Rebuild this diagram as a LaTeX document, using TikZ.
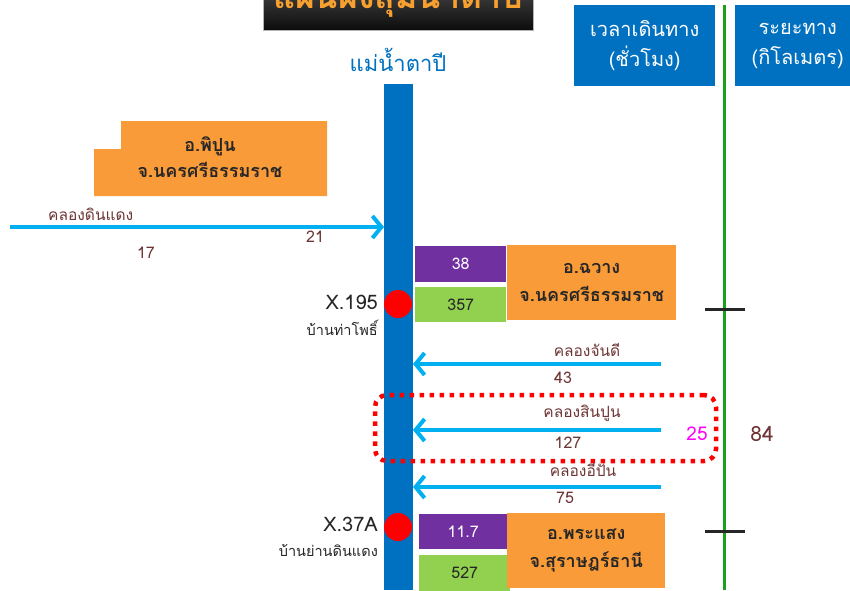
\documentclass[tikz,border=0pt]{standalone}
\usepackage{fontspec}
\setmainfont{Loma}[Script=Thai]
\usetikzlibrary{arrows.meta}
\definecolor{riverblue}{HTML}{0070C0}
\definecolor{tribblue}{HTML}{00B0F0}
\definecolor{orangebox}{HTML}{F99B38}
\definecolor{purplebox}{HTML}{7030A0}
\definecolor{greenbox}{HTML}{92D050}
\definecolor{scalegreen}{HTML}{1AA01A}
\definecolor{labelbrown}{HTML}{6E3535}
\definecolor{titleorange}{HTML}{F7A030}
\definecolor{hourpink}{HTML}{FF00FF}
\newcommand{\fsz}[2]{\fontsize{#1}{#2}\selectfont}
\tikzset{
  fillbox/.style={anchor=north west, inner sep=0pt, align=center, text=black!85},
  orangecell/.style={fillbox, fill=orangebox, font=\fsz{18}{22}\bfseries},
  purplecell/.style={fillbox, fill=purplebox, text=white, font=\fsz{16}{20}},
  greencell/.style={fillbox, fill=greenbox, font=\fsz{16}{20}},
  headcell/.style={anchor=north west, inner sep=0pt, fill=riverblue, text=white, align=center, font=\fsz{20}{30}},
  tributary/.style={draw=tribblue, line width=4pt, -{Straight Barb[length=9pt,width=22pt,line width=4pt]}},
  brown/.style={text=labelbrown, inner sep=0pt},
  canal/.style={brown, font=\fsz{15.5}{19}},
  figure/.style={brown, font=\fsz{16}{19}},
  station/.style={circle, fill=red, minimum size=28pt, inner sep=0pt},
  tick/.style={draw=black!85, line width=3pt},
}
\begin{document}
\begin{tikzpicture}[x=1pt,y=-1pt]
\useasboundingbox (0,0) rectangle (850,590);
\fill[white] (0,0) rectangle (850,590);

% title banner, running off the top edge
\shade[top color=black!60, bottom color=black!95, draw=black!30, line width=1pt]
  (263,-40) rectangle (533,30);
\node[anchor=base, text=titleorange, font=\fsz{34}{40}\bfseries, inner sep=0pt] (title) at (398,8) {แผนผังลุ่มน้ำตาปี};

% river
\node[text=riverblue, font=\fsz{22}{26}, inner sep=0pt] (rivername) at (398,60) {แม่น้ำตาปี};
\fill[riverblue] (384,84) rectangle (413,590);
\coordinate (barW) at (384,0);
\coordinate (barE) at (413,0);

% header cells
\node[headcell, minimum width=141pt, minimum height=81pt] (hTime) at (574,5) {เวลาเดินทาง\\(ชั่วโมง)};
\node[headcell, minimum width=125pt, minimum height=81pt] (hDist) at (735,5) {ระยะทาง\\(กิโลเมตร)};

% distance scale
\draw[scalegreen, line width=3pt] (724,5) -- (724,590);
\draw[tick] (705,309) -- (745,309);
\draw[tick] (705,531) -- (745,531);
\node[brown, font=\fsz{21}{25}] (dist84) at (762,434) {84};

% upstream district
\fill[orangebox] (121,121) -- (327,121) -- (327,196) -- (94,196) -- (94,149) -- (121,149) -- cycle;
\node[inner sep=0pt, font=\fsz{18}{22}\bfseries, text=black!85, align=center] (phipun) at (210,157) {อ.พิปูน\\[4pt]จ.นครศรีธรรมราช};

% Khlong Din Daeng
\coordinate (kddStart) at (10,227);
\draw[tributary] (kddStart) -- (kddStart -| barW);
\node[canal, anchor=west] (kddName) at (48,214) {คลองดินแดง};
\node[figure] (kdd21) at (315,237) {21};
\node[figure] (kdd17) at (146,253) {17};

% station X.195
\node[purplecell, minimum width=91pt, minimum height=36pt] (t195) at (415,246) {38};
\node[greencell, minimum width=91pt, minimum height=35pt] (a195) at (415,287) {357};
\node[orangecell, minimum width=169pt, minimum height=75pt] (chawang) at (507,245) {อ.ฉวาง\\[6pt]จ.นครศรีธรรมราช};
\node[station] (x195) at (398,304) {};
\node[anchor=east, inner sep=0pt, font=\fsz{20}{24}, text=black!85] (x195name) at (378,302) {X.195};
\node[anchor=east, inner sep=0pt, font=\fsz{14.5}{17}, text=black!85] (x195vil) at (378,328) {บ้านท่าโพธิ์};

% Khlong Chan Di
\coordinate (kcdStart) at (661,364);
\draw[tributary] (kcdStart) -- (kcdStart -| barE);
\node[canal] (kcdName) at (587,350) {คลองจันดี};
\node[figure] (kcd43) at (563,378) {43};

% Khlong Sin Pun (highlighted)
\node[draw=red, line width=4.5pt, dash pattern=on 4.5pt off 5.5pt, rounded corners=12pt,
      minimum width=341pt, minimum height=66pt, inner sep=0pt] (focus) at (545.5,428) {};
\coordinate (kspStart) at (661,430);
\draw[tributary] (kspStart) -- (kspStart -| barE);
\node[canal] (kspName) at (582,413) {คลองสินปูน};
\node[figure] (ksp127) at (568,443) {127};
\node[text=hourpink, inner sep=0pt, font=\fsz{19}{23}] (ksp25) at (697,434) {25};

% Khlong I Pan
\coordinate (kipStart) at (661,487);
\draw[tributary] (kipStart) -- (kipStart -| barE);
\node[canal] (kipName) at (583,470) {คลองอีปัน};
\node[figure] (kip75) at (565,498) {75};

% station X.37A
\node[purplecell, minimum width=88pt, minimum height=35pt] (t37a) at (419,514) {11.7};
\node[greencell, minimum width=91pt, minimum height=36pt] (a37a) at (419,555) {527};
\node[orangecell, minimum width=158pt, minimum height=75pt] (phrasaeng) at (507,513) {อ.พระแสง\\[6pt]จ.สุราษฎร์ธานี};
\node[station] (x37a) at (398,527) {};
\node[anchor=east, inner sep=0pt, font=\fsz{20}{24}, text=black!85] (x37aname) at (378,524) {X.37A};
\node[anchor=east, inner sep=0pt, font=\fsz{14.5}{17}, text=black!85] (x37avil) at (378,550) {บ้านย่านดินแดง};
\end{tikzpicture}
\end{document}
